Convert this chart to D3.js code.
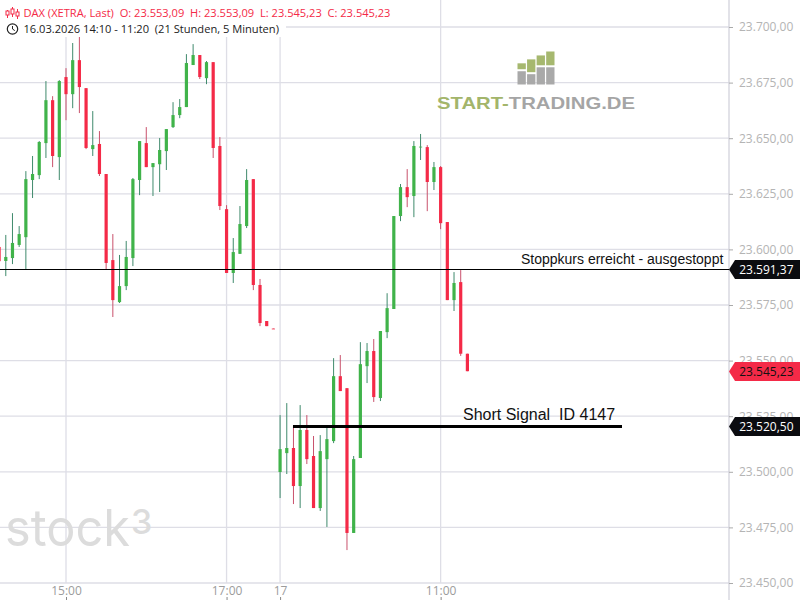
<!DOCTYPE html>
<html><head><meta charset="utf-8">
<script src="https://cdn.jsdelivr.net/npm/d3@7"></script>
<style>html,body{margin:0;padding:0;background:#fff}svg{display:block}</style></head>
<body><svg id="c" width="800" height="600"></svg>
<script>
const opens=[23601.1,23594.8,23596.1,23602.0,23605.5,23631.2,23633.4,23647.8,23667.1,23641.5,23677.5,23669.8,23685.1,23672.5,23645.1,23647.4,23633.9,23595.2,23576.3,23583.5,23596.1,23631.2,23647.8,23637.0,23638.3,23644.2,23655.0,23660.4,23664.0,23682.9,23687.4,23677.0,23684.2,23646.5,23618.1,23589.4,23598.0,23610.5,23631.6,23584.0,23567.8,23564.4,23499.9,23508.4,23510.7,23493.6,23518.8,23507.1,23483.7,23505.7,23513.8,23543.0,23537.6,23472.5,23506.2,23547.5,23554.3,23533.2,23562.8,23573.2,23615.0,23628.0,23624.0,23646.0,23646.0,23630.3,23637.0,23612.3,23577.2,23585.3,23553.09];
const highs=[23602.9,23606.5,23616.3,23610.5,23635.2,23642.0,23648.7,23675.7,23668.9,23676.1,23681.5,23692.8,23698.6,23672.5,23662.2,23653.2,23633.9,23606.9,23597.5,23603.8,23632.1,23648.7,23655.0,23638.8,23650.1,23654.1,23666.2,23667.6,23687.8,23692.3,23687.4,23684.7,23684.2,23650.5,23619.9,23605.1,23619.5,23636.1,23631.6,23586.7,23567.8,23564.4,23525.5,23530.9,23521.0,23530.0,23525.5,23516.1,23516.5,23519.7,23551.1,23552.5,23537.6,23507.1,23558.3,23557.9,23559.7,23563.3,23580.3,23615.0,23629.4,23636.1,23648.7,23651.9,23646.9,23639.3,23637.5,23612.3,23589.8,23590.7,23553.09];
const lows=[23593.4,23588.0,23593.4,23601.1,23591.2,23623.1,23631.6,23641.1,23637.0,23631.2,23658.1,23663.5,23661.3,23645.1,23642.0,23633.0,23591.2,23569.6,23575.9,23581.7,23592.5,23624.4,23637.0,23624.0,23625.8,23635.7,23654.6,23659.0,23664.0,23682.9,23676.6,23674.3,23641.1,23617.7,23589.4,23584.9,23598.0,23609.6,23581.7,23565.5,23565.5,23564.2,23488.2,23499.0,23485.5,23483.7,23503.5,23483.7,23482.4,23475.2,23512.9,23536.3,23464.8,23472.5,23506.2,23539.9,23531.4,23531.8,23560.1,23573.2,23612.7,23619.0,23614.5,23640.2,23617.2,23626.7,23609.1,23577.2,23572.3,23552.1,23545.23];
const closes=[23594.7,23596.6,23602.9,23606.9,23631.6,23633.9,23648.3,23667.1,23642.0,23675.7,23669.8,23685.1,23673.0,23645.6,23646.9,23633.9,23593.9,23577.2,23583.5,23596.6,23631.6,23648.7,23637.0,23638.8,23644.7,23654.1,23660.4,23664.0,23683.8,23687.4,23677.5,23684.2,23645.6,23619.5,23589.4,23598.8,23611.4,23631.2,23584.0,23566.9,23565.5,23564.2,23510.2,23510.7,23493.6,23518.8,23505.7,23483.7,23509.3,23514.7,23543.0,23536.3,23472.5,23505.7,23548.4,23554.3,23533.6,23563.3,23573.6,23615.0,23628.0,23623.5,23646.5,23646.2,23630.3,23637.0,23611.8,23577.2,23584.9,23553.09,23545.23];
const priceTicks=[23450,23475,23500,23525,23550,23575,23600,23625,23650,23675,23700];
const timeBars=[10,34,42,66];
const timeLabels=["15:00","17:00","17","11:00"];
const priceTags=[23591.37,23545.23,23520.5];
const tagColors=["#0b0c10","#f42a47","#0b0c10"];
const tagText=["#fff","#111","#fff"];
const stopLevel=23591.37, signalLevel=23520.5;
const logoBars=[[0,21.5],[1,25.5],[2,29.5],[3,33.5]];
const logoMid=[15.5,12.5,19.5,19.5];

const W=800,H=600,right=729,bottom=583;
const svg=d3.select("#c");
const font="'Open Sans',sans-serif";
const y=d3.scaleLinear().domain([23450,23700]).range([583,27]);
const x=d3.scaleLinear().domain([0,70]).range([-0.9,467.4]);
const grid="#dedee6";

const g=svg.append("g");
g.selectAll(".h").data(priceTicks).join("line").attr("x1",0).attr("x2",right)
 .attr("y1",d=>y(d)).attr("y2",d=>y(d)).attr("stroke",grid).attr("stroke-width",1.3);
g.selectAll(".v").data(timeBars).join("line").attr("x1",d=>x(d)).attr("x2",d=>x(d))
 .attr("y1",0).attr("y2",bottom).attr("stroke",grid).attr("stroke-width",1.3);
g.append("line").attr("x1",right).attr("x2",right).attr("y1",0).attr("y2",H).attr("stroke","#d3d3dc").attr("stroke-width",1.3);

// watermark
g.append("text").attr("x",5).attr("y",546).attr("font-family","Inter,sans-serif").attr("font-weight",400)
 .attr("font-size",51).attr("textLength",125).attr("lengthAdjust","spacingAndGlyphs").attr("fill","#dcdcdc").text("stock");
g.append("text").attr("x",131).attr("y",534).attr("font-family","Inter,sans-serif").attr("font-weight",500)
 .attr("font-size",34).attr("fill","#dcdcdc").text("3");

// logo
const lx=d3.scaleBand().domain(logoBars.map(d=>d[0])).range([517.5,554.5]).paddingInner(.13);
const logoY=d3.scaleLinear().domain([0,34]).range([84.5,51]);
svg.append("g").selectAll("rect").data(logoBars).join("rect").attr("x",d=>lx(d[0])).attr("width",lx.bandwidth())
 .attr("y",d=>logoY(d[1])).attr("height",d=>logoY(logoMid[d[0]])-logoY(d[1])).attr("fill","#a6b86f");
svg.append("g").selectAll("rect").data(logoBars).join("rect").attr("x",d=>lx(d[0])).attr("width",lx.bandwidth())
 .attr("y",d=>logoY(logoMid[d[0]])+2).attr("height",d=>logoY(0)-logoY(logoMid[d[0]])-2).attr("fill","#a9a9a9");
const logoT=svg.append("text").attr("x",437).attr("y",108.5).attr("font-family","'Liberation Sans',sans-serif").attr("font-weight",700)
 .attr("font-size",16.5).attr("textLength",198).attr("lengthAdjust","spacingAndGlyphs");
logoT.append("tspan").attr("fill","#a3b56b").text("START-");
logoT.append("tspan").attr("fill","#a5a5a5").text("TRADING.DE");

// candles
const idx=d3.range(opens.length);
const up=i=>closes[i]>=opens[i];
const cg=svg.append("g");
cg.selectAll(".w").data(idx).join("line").attr("x1",i=>x(i)).attr("x2",i=>x(i))
 .attr("y1",i=>y(highs[i])).attr("y2",i=>y(lows[i])).attr("stroke-width",1)
 .attr("stroke",i=>up(i)?"#3f8a6c":"#c9516c");
cg.selectAll(".b").data(idx).join("rect").attr("x",i=>x(i)-1.6).attr("width",3.2)
 .attr("y",i=>y(Math.max(opens[i],closes[i])))
 .attr("height",i=>Math.max(.8,Math.abs(y(opens[i])-y(closes[i]))))
 .attr("fill",i=>up(i)?"#40b34a":"#f42a47");

// annotation lines
const ys=Math.round(y(stopLevel))+.5, yg=Math.round(y(signalLevel))+.5;
svg.append("line").attr("x1",0).attr("x2",right).attr("y1",ys).attr("y2",ys).attr("stroke","#000").attr("stroke-width",1);
svg.append("line").attr("x1",293).attr("x2",622).attr("y1",yg).attr("y2",yg).attr("stroke","#000").attr("stroke-width",3);
svg.append("text").attr("x",521).attr("y",264).attr("font-family","'Liberation Sans',Arial,sans-serif").attr("font-size",14).attr("fill","#111").text("Stoppkurs erreicht - ausgestoppt");
svg.append("text").attr("x",463).attr("y",420).attr("font-family","'Liberation Sans',Arial,sans-serif").attr("font-size",16).attr("fill","#111").attr("xml:space","preserve").text("Short Signal  ID 4147");

// axes
const fmt=d=>d.toLocaleString("de-DE",{minimumFractionDigits:2,maximumFractionDigits:2});
const ya=svg.append("g").attr("transform",`translate(${right},0)`).call(d3.axisRight(y).tickValues(priceTicks).tickFormat(fmt).tickSize(4).tickPadding(6));
ya.select(".domain").remove();
ya.selectAll("line").attr("stroke","#aaa");
ya.selectAll("text").attr("font-family",font).attr("font-size",12).attr("fill","#b4b4b4");
const xa=svg.append("g").attr("transform",`translate(0,${H-3})`)
 .call(d3.axisBottom(x).tickValues(timeBars).tickFormat((d,i)=>timeLabels[i]).tickSize(3).tickPadding(0));
xa.select(".domain").remove();
xa.selectAll("line").attr("stroke","#888");
xa.selectAll("text").attr("font-family",font).attr("font-size",12).attr("fill","#9c9c9c").attr("y",-2).attr("dy",0);

// price tags
const tag=svg.append("g").selectAll("g").data(priceTags).join("g").attr("transform",d=>`translate(${right},${Math.round(y(d))+.5})`);
tag.append("path").attr("d","M0,0L6,-9.5H71V9.5H6Z").attr("fill",(d,i)=>tagColors[i]);
tag.append("text").attr("x",64.5).attr("y",4.5).attr("text-anchor","end").attr("font-family",font).attr("font-size",12)
 .attr("fill",(d,i)=>tagText[i]).text(fmt);

// header
svg.append("rect").attr("x",0).attr("y",0).attr("width",392).attr("height",21).attr("fill","#fff");
svg.append("rect").attr("x",0).attr("y",21).attr("width",286).attr("height",16).attr("fill","#fff");
const hc="#f42a47";
const ic=svg.append("g").attr("transform","translate(6,7)");
[[1,3,11,4,8],[6,0,10,2,7],[11,2,12,5,9]].forEach(a=>{
 ic.append("line").attr("x1",a[0]+.5).attr("x2",a[0]+.5).attr("y1",a[1]).attr("y2",a[2]).attr("stroke",hc);
 ic.append("rect").attr("x",a[0]-1).attr("y",a[3]).attr("width",3).attr("height",a[4]-a[3]).attr("fill","#fff").attr("stroke",hc);
});
svg.append("text").attr("x",23.5).attr("y",17).attr("font-family",font).attr("font-size",11.1).attr("fill",hc).attr("xml:space","preserve")
 .text("DAX (XETRA, Last)  O: 23.553,09  H: 23.553,09  L: 23.545,23  C: 23.545,23");
const cl=svg.append("g").attr("transform","translate(12.5,29)");
cl.append("circle").attr("r",5.2).attr("fill","none").attr("stroke","#222").attr("stroke-width",1.2);
cl.append("path").attr("d","M0,-3V0L2.3,1.6").attr("fill","none").attr("stroke","#222");
svg.append("text").attr("x",23.5).attr("y",33).attr("font-family",font).attr("font-size",11.12).attr("fill","#222").attr("xml:space","preserve")
 .text("16.03.2026 14:10 - 11:20  (21 Stunden, 5 Minuten)");
</script></body></html>
